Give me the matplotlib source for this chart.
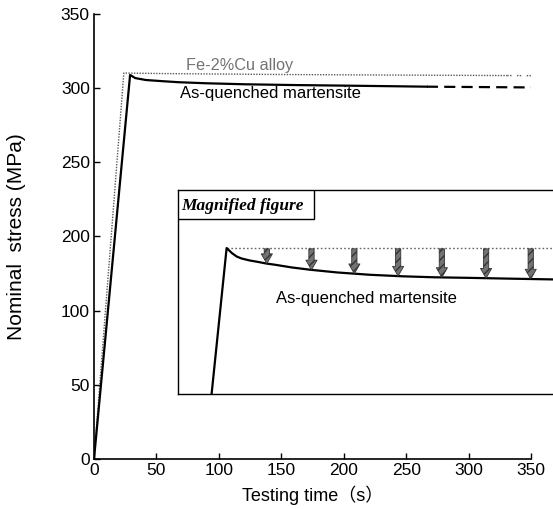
import numpy as np
import matplotlib
matplotlib.use("Agg")
import matplotlib.pyplot as plt
from matplotlib.patches import Rectangle

plt.rcParams['font.family'] = ['Liberation Sans', 'Noto Sans CJK JP', 'DejaVu Sans']

# ---- main curves (time in s, nominal stress in MPa) ----
fecu_time = [0, 23.9, 60, 150, 250, 331]
fecu_stress = [50, 310.2, 309.8, 309.2, 308.8, 308.5]
fecu_tail_time = [331, 350]
fecu_tail_stress = [308.5, 308.4]

mart_time = [0, 28.9, 33, 41.5, 55, 68, 90, 122, 160, 202, 240, 266.6]
mart_stress = [50, 308.9, 306.8, 305.5, 304.7, 304.0, 303.3, 302.6, 302.1, 301.7, 301.3, 301.0]
mart_tail_time = [266.6, 350]
mart_tail_stress = [301.0, 300.5]

ytick_pos = [50, 100, 150, 200, 250, 300, 350]
ytick_labels = ['0', '50', '100', '200', '250', '300', '350']
xtick_pos = [0, 50, 100, 150, 200, 250, 300, 350]

# ---- magnified view ----
mag_time = [7.6, 11.0, 12.2, 13.3, 14.4, 16.2, 18.2, 20.0, 21.9, 25.7, 29.9, 36.0,
            43.4, 50.9, 58.0, 66.1, 75.0, 84.8]
mag_stress = [271.3, 309.0, 307.7, 306.8, 306.3, 305.8, 305.4, 305.0, 304.7, 304.0, 303.4, 302.7,
              302.1, 301.7, 301.45, 301.3, 301.1, 300.9]
mag_ref_level = 309.1
arrow_times = [20.1, 30.2, 39.9, 49.8, 59.7, 69.7, 79.8]

W, H = 553, 509
fig = plt.figure(figsize=(W / 100, H / 100), dpi=100)

def fx(px):
    return px / W

def fy(py):
    return 1 - py / H

ax = fig.add_axes([fx(94), fy(459), fx(531) - fx(94), fy(14) - fy(459)])
ax.plot(fecu_time, fecu_stress, color='0.35', lw=1.0, ls=(0, (1, 1)))
ax.plot(fecu_tail_time, fecu_tail_stress, color='0.35', lw=1.0, ls=(0, (1, 1, 1, 4)))
ax.plot(mart_time, mart_stress, color='black', lw=1.6)
ax.plot(mart_tail_time, mart_tail_stress, color='black', lw=1.6, ls=(0, (5, 2.8)))

ax.set_xlim(0, 350)
ax.set_ylim(50, 350)
ax.set_xticks(xtick_pos)
ax.set_yticks(ytick_pos)
ax.set_yticklabels(ytick_labels)
ax.tick_params(direction='in', length=4, width=1, labelsize=12.5, pad=3)
for s in ['top', 'right']:
    ax.spines[s].set_visible(False)
for s in ['left', 'bottom']:
    ax.spines[s].set_linewidth(1.2)

ax.text(116.6, 315.6, 'Fe-2%Cu alloy', color='0.45', fontsize=11.7,
        ha='center', va='center')
ax.text(141.5, 296.7, 'As-quenched martensite', color='black', fontsize=12,
        ha='center', va='center')

fig.text(fx(313), fy(495), 'Testing time（s）', fontsize=13,
         ha='center', va='center')
fig.text(fx(17), fy(237), 'Nominal  stress (MPa)', fontsize=15,
         rotation=90, ha='center', va='center')

# ---- inset ----
ax_in = fig.add_axes([fx(178), fy(394), fx(620) - fx(178), fy(190) - fy(394)])
ax_in.set_facecolor('white')
ax_in.set_xlim(0, 100)
ax_in.set_ylim(271.3, 324)
ax_in.set_xticks([])
ax_in.set_yticks([])
ax_in.spines['right'].set_visible(False)
for s in ['top', 'left', 'bottom']:
    ax_in.spines[s].set_linewidth(1.0)

ax_in.plot([mag_time[1], 100], [mag_ref_level, mag_ref_level],
           color='0.4', lw=1.0, ls=(0, (1.2, 1.6)))
ax_in.plot(mag_time, mag_stress, color='black', lw=1.6)

for t in arrow_times:
    tip = np.interp(t, mag_time, mag_stress)
    ax_in.annotate('', xy=(t, tip), xytext=(t, mag_ref_level - 0.3),
                   arrowprops=dict(arrowstyle='simple,head_length=0.7,head_width=0.8,tail_width=0.38',
                                   fc='0.45', ec='0.2', lw=0.6, hatch='////',
                                   shrinkA=0, shrinkB=0))

box_w = (314 - 178) / (620 - 178)
box_h = (219 - 190) / (394 - 190)
ax_in.add_patch(Rectangle((0, 1 - box_h), box_w, box_h, transform=ax_in.transAxes,
                          fc='white', ec='black', lw=1.0, zorder=5))
ax_in.text((242.5 - 178) / (620 - 178), 1 - (205.5 - 190) / (394 - 190), 'Magnified figure',
           transform=ax_in.transAxes, ha='center', va='center', zorder=6,
           fontsize=12.5, fontweight='bold', fontstyle='italic', family='Liberation Serif')

ax_in.text((366 - 178) / (620 - 178), 1 - (298 - 190) / (394 - 190), 'As-quenched martensite',
           transform=ax_in.transAxes, ha='center', va='center', fontsize=12)

fig.savefig('out.png', dpi=100)
